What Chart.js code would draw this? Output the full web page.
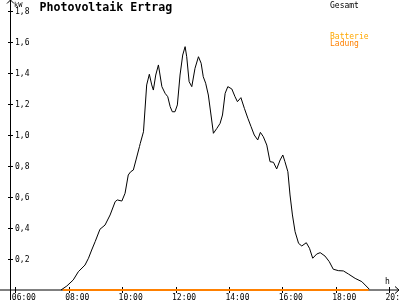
<!DOCTYPE html>
<html>
<head>
<meta charset="utf-8">
<script src="https://cdn.jsdelivr.net/npm/chart.js@4"></script>
<style>
html, body { margin: 0; padding: 0; background: #fff; }
canvas { display: block; }
</style>
</head>
<body>
<canvas id="myChart" width="400" height="300"></canvas>
<script>
// time of day in hours
const hours = [7.71, 7.93, 8.17, 8.36, 8.61, 8.74, 8.86, 8.99, 9.17, 9.36, 9.55, 9.74, 9.82, 9.99,
  10.11, 10.23, 10.32, 10.42, 10.52, 10.65, 10.68, 10.80, 10.92, 11.02, 11.11, 11.17, 11.26, 11.36,
  11.49, 11.61, 11.71, 11.80, 11.88, 11.98, 12.07, 12.17, 12.27, 12.36, 12.42, 12.51, 12.61, 12.73,
  12.86, 12.96, 13.04, 13.13, 13.23, 13.33, 13.42, 13.55, 13.67, 13.76, 13.86, 13.96, 14.11, 14.23,
  14.32, 14.45, 14.58, 14.71, 14.83, 14.95, 15.08, 15.18, 15.29, 15.42, 15.54, 15.67, 15.79, 15.92,
  16.02, 16.10, 16.21, 16.29, 16.38, 16.48, 16.61, 16.73, 16.90, 17.02, 17.14, 17.29, 17.42, 17.60,
  17.76, 17.91, 18.10, 18.29, 18.48, 18.73, 18.98, 19.14, 19.26];
// Gesamt (kW)
const gesamt = [0, 0.026, 0.065, 0.118, 0.161, 0.205, 0.258, 0.312, 0.392, 0.419, 0.484, 0.570, 0.581, 0.574,
  0.624, 0.742, 0.763, 0.774, 0.839, 0.925, 0.946, 1.021, 1.323, 1.392, 1.323, 1.290, 1.387, 1.452,
  1.312, 1.269, 1.247, 1.183, 1.150, 1.150, 1.194, 1.387, 1.516, 1.570, 1.505, 1.344, 1.312, 1.430,
  1.505, 1.463, 1.376, 1.334, 1.258, 1.129, 1.011, 1.043, 1.075, 1.129, 1.269, 1.312, 1.297, 1.247,
  1.215, 1.241, 1.172, 1.108, 1.054, 1.000, 0.968, 1.017, 0.989, 0.935, 0.828, 0.824, 0.781, 0.839,
  0.871, 0.828, 0.763, 0.613, 0.484, 0.376, 0.301, 0.284, 0.305, 0.269, 0.205, 0.232, 0.241, 0.219,
  0.183, 0.134, 0.125, 0.123, 0.103, 0.075, 0.054, 0.026, 0.005];
// Batterie Ladung (kW) - flat zero over the day
const batterieHours = [7.78, 19.23];
const batterie = [0, 0];

const xTicks = [6, 8, 10, 12, 14, 16, 18, 20];
const xTickLabels = ['06:00', '08:00', '10:00', '12:00', '14:00', '16:00', '18:00', '20:00'];
const yTicks = [0.2, 0.4, 0.6, 0.8, 1.0, 1.2, 1.4, 1.6, 1.8];
const yTickLabels = ['0,2', '0,4', '0,6', '0,8', '1,0', '1,2', '1,4', '1,6', '1,8'];

const small = '8px "DejaVu Sans Mono"';

// axes with arrows, cross ticks, labels and legend text
const axesPlugin = {
  id: 'axes',
  beforeDatasetsDraw(chart) {
    const ctx = chart.ctx;
    const x = chart.scales.x;
    const y = chart.scales.y;
    const x0 = x.getPixelForValue(5.8);
    const y0 = y.getPixelForValue(0);
    ctx.save();
    ctx.strokeStyle = '#000';
    ctx.fillStyle = '#000';
    ctx.lineWidth = 1;
    ctx.beginPath();
    // x axis + arrow
    ctx.moveTo(0, y0);
    ctx.lineTo(399, y0);
    ctx.moveTo(395, y0 - 3.5);
    ctx.lineTo(399, y0);
    ctx.lineTo(395, y0 + 3.5);
    // y axis + arrow
    ctx.moveTo(x0 + 0.5, 300);
    ctx.lineTo(x0 + 0.5, 0);
    ctx.moveTo(x0 - 3, 3.5);
    ctx.lineTo(x0 + 0.5, 0);
    ctx.lineTo(x0 + 4, 3.5);
    xTicks.forEach((v) => {
      const px = Math.round(x.getPixelForValue(v)) + 0.5;
      ctx.moveTo(px, y0 - 3);
      ctx.lineTo(px, y0 + 3);
    });
    yTicks.forEach((v) => {
      const py = Math.round(y.getPixelForValue(v)) + 0.5;
      ctx.moveTo(x0 - 2, py);
      ctx.lineTo(x0 + 3, py);
    });
    ctx.stroke();

    ctx.font = small;
    ctx.textAlign = 'left';
    ctx.textBaseline = 'alphabetic';
    xTicks.forEach((v, i) => {
      ctx.fillText(xTickLabels[i], x.getPixelForValue(v) - 3.5, 299.5);
    });
    ctx.textBaseline = 'middle';
    yTicks.forEach((v, i) => {
      ctx.fillText(yTickLabels[i], x0 + 5, y.getPixelForValue(v) + 0.5);
    });
    ctx.textBaseline = 'alphabetic';
    ctx.font = '7px "DejaVu Sans Mono"';
    ctx.fillText('kW', x0 + 4, 6.5);
    ctx.font = small;
    ctx.fillText('h', 385, 284);

    ctx.font = 'bold 11.6px "DejaVu Sans Mono"';
    ctx.fillText('Photovoltaik Ertrag', 39.5, 11);

    ctx.font = small;
    const ds = chart.data.datasets;
    ctx.fillStyle = '#000';
    ctx.fillText(ds[0].label, 330, 7.5);
    const parts = ds[1].label.split(' ');
    ctx.fillStyle = '#ffa800';
    ctx.fillText(parts[0], 330, 39);
    ctx.fillStyle = '#ff8000';
    ctx.fillText(parts[1], 330, 46);
    ctx.restore();
  }
};

const config = {
  type: 'line',
  data: {
    datasets: [
      {
        label: 'Gesamt',
        data: hours.map((h, i) => ({ x: h, y: gesamt[i] })),
        borderColor: '#000',
        borderWidth: 1,
        pointRadius: 0,
        tension: 0,
        clip: false,
        order: 1,
      },
      {
        label: 'Batterie Ladung',
        data: batterieHours.map((h, i) => ({ x: h, y: batterie[i] })),
        borderColor: '#ff8000',
        borderWidth: 2,
        pointRadius: 0,
        clip: false,
        order: 0,
      },
    ],
  },
  options: {
    responsive: false,
    animation: false,
    layout: { padding: { left: 10, right: 0, top: 0, bottom: 10 } },
    plugins: { legend: { display: false }, tooltip: { enabled: false } },
    scales: {
      x: { type: 'linear', display: false, min: 5.8, max: 20.41 },
      y: { display: false, min: 0, max: 1.871 },
    },
  },
  plugins: [axesPlugin],
};

const myChart = new Chart(document.getElementById('myChart'), config);
</script>
</body>
</html>
